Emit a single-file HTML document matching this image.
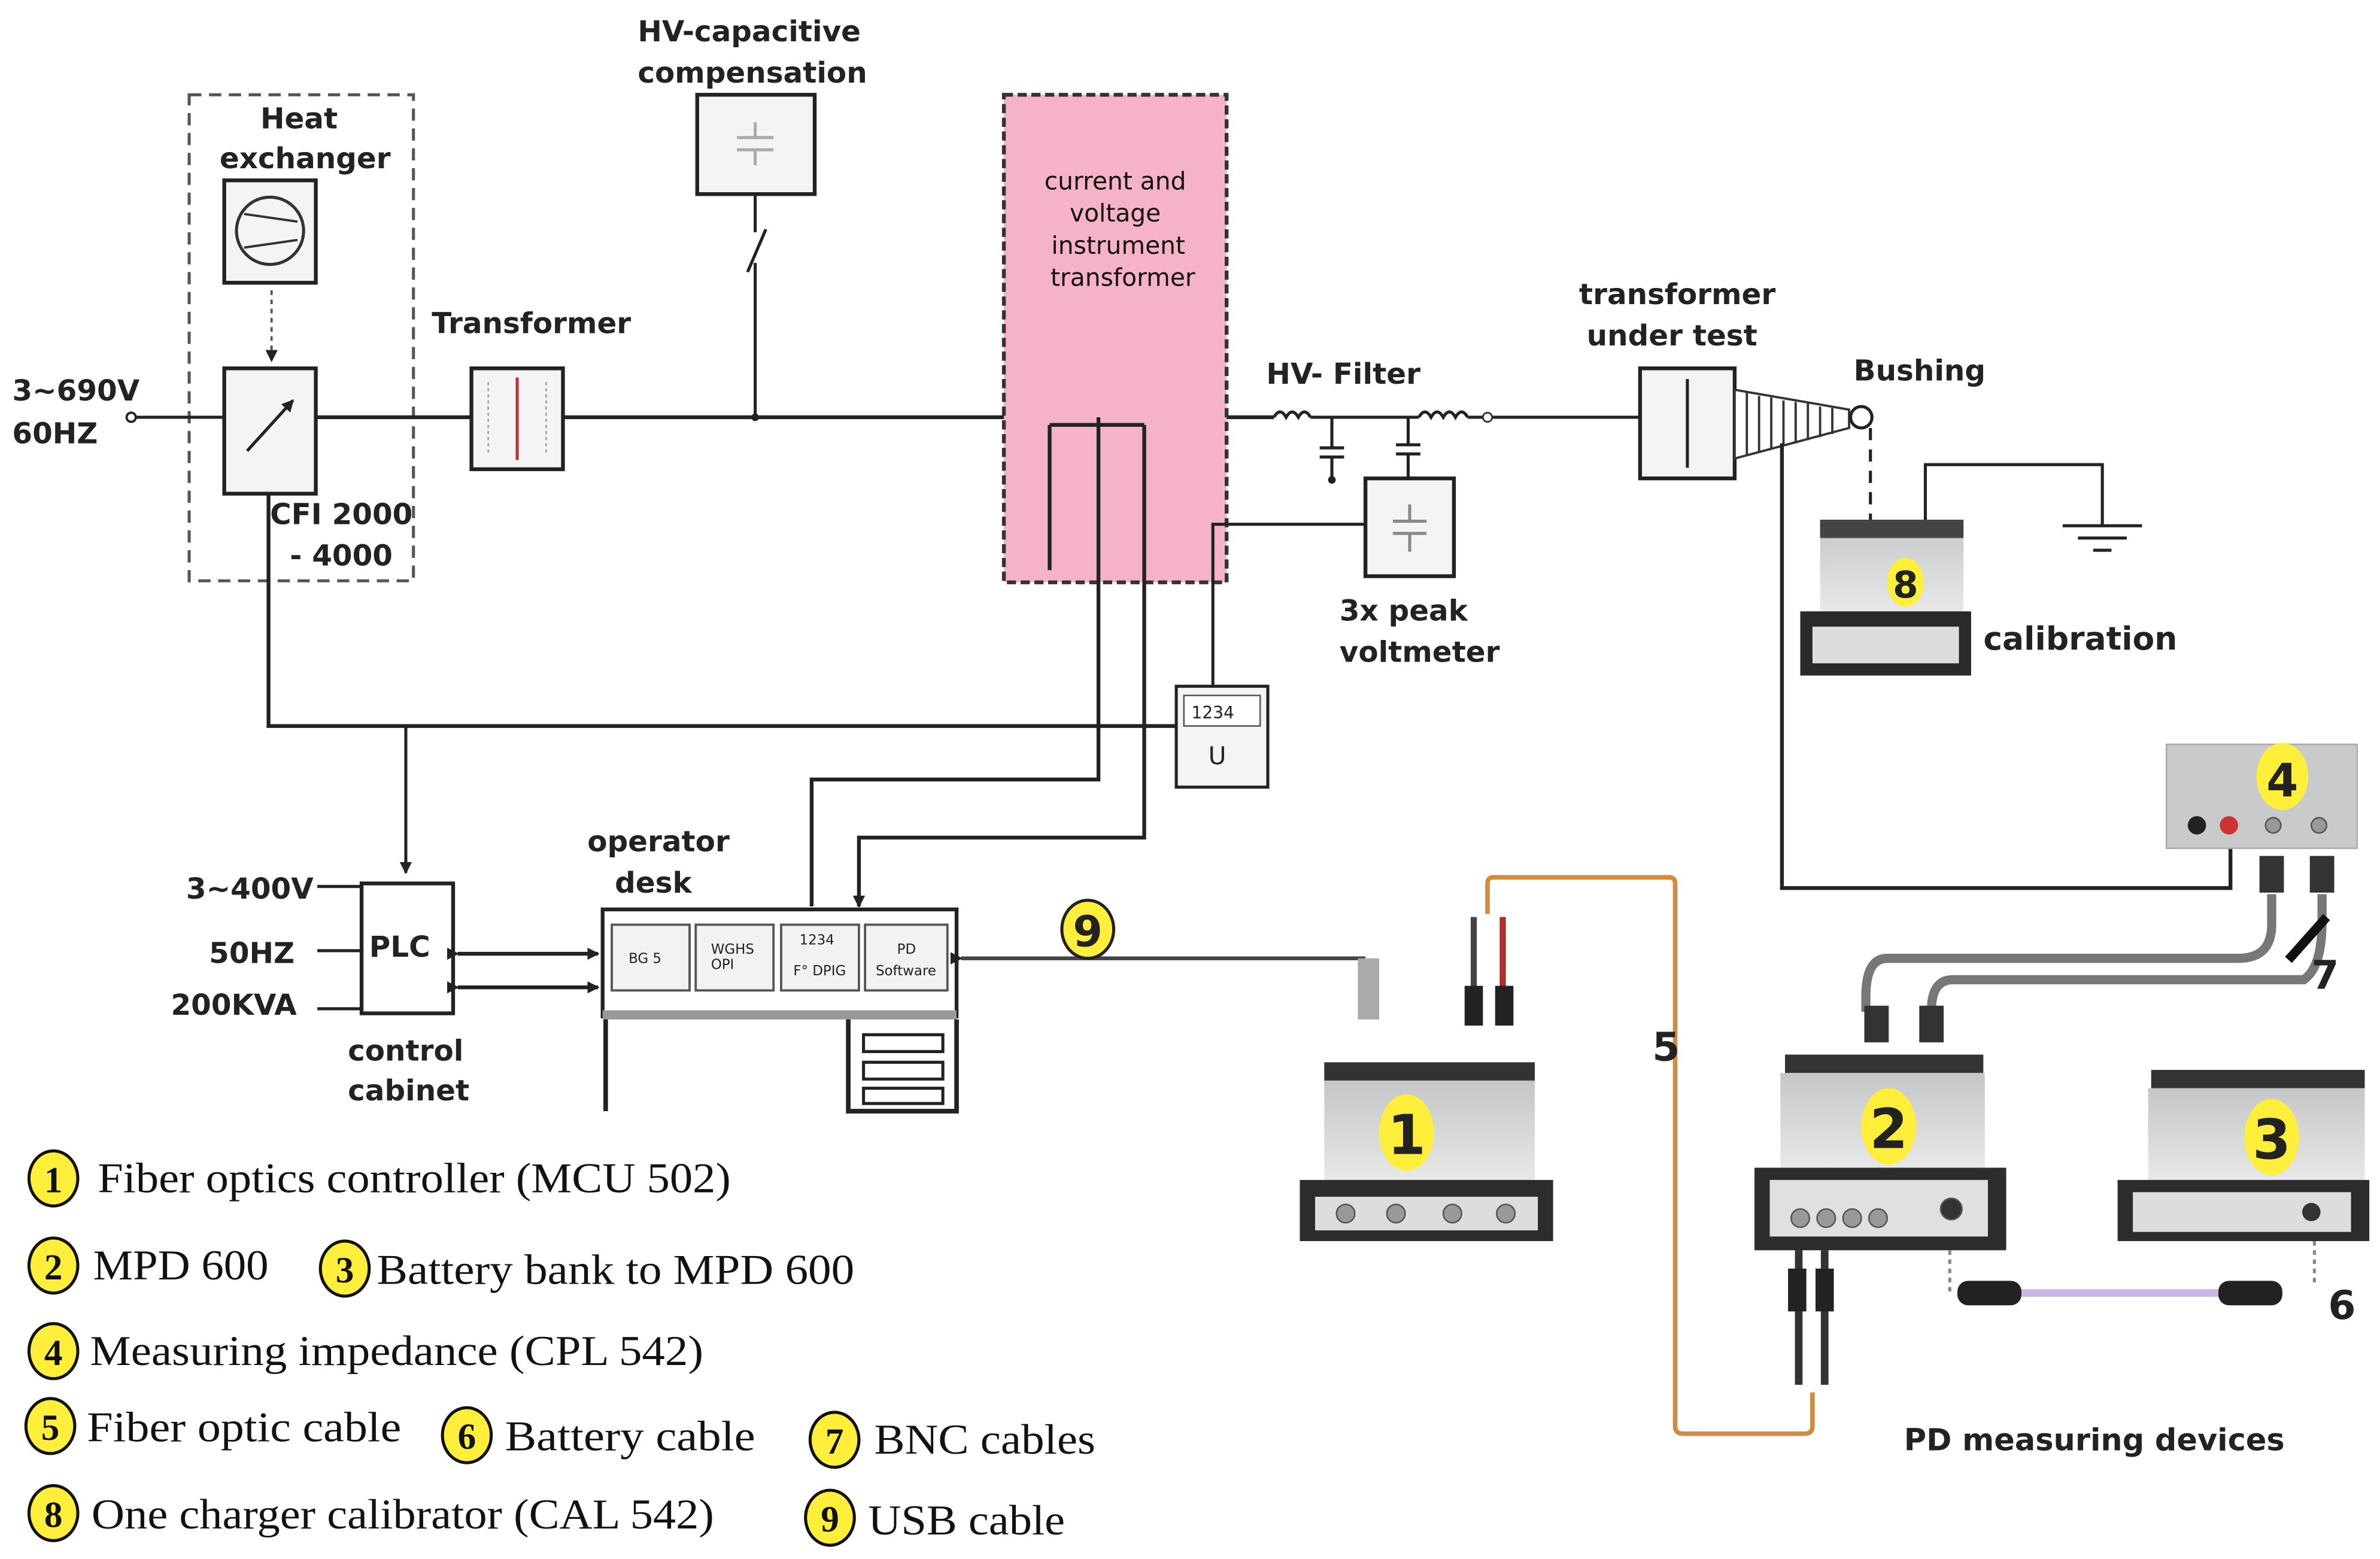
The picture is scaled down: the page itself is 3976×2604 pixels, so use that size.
<!DOCTYPE html>
<html><head><meta charset="utf-8"><style>html,body{margin:0;padding:0;background:#fff}svg{display:block}</style></head>
<body>
<svg width="3976" height="2604" viewBox="0 0 1560 1020" preserveAspectRatio="none" xmlns="http://www.w3.org/2000/svg">
<defs>
<linearGradient id="body" x1="0" y1="0" x2="0" y2="1"><stop offset="0" stop-color="#c4c6c8"/><stop offset="1" stop-color="#e8e8e8"/></linearGradient>
<marker id="ar" markerWidth="8" markerHeight="8" refX="7" refY="4" orient="auto" markerUnits="userSpaceOnUse"><path d="M0,0 L8,4 L0,8z" fill="#222"/></marker>
</defs>
<g font-family="'DejaVu Sans','Liberation Sans',sans-serif" font-weight="bold" font-size="19" fill="#222">
<!-- dashed box -->
<rect x="124" y="62" width="147" height="318" fill="none" stroke="#555" stroke-width="2" stroke-dasharray="8,5"/>
<text x="196" y="84" text-anchor="middle">Heat</text>
<text x="200" y="110" text-anchor="middle">exchanger</text>
<rect x="147" y="118" width="60" height="67" fill="#f4f4f4" stroke="#222" stroke-width="2.5"/>
<circle cx="177" cy="151" r="22" fill="none" stroke="#333" stroke-width="2"/>
<path d="M160,140 L195,145 M160,162 L195,157" stroke="#333" stroke-width="1.5"/>
<line x1="178" y1="190" x2="178" y2="236" stroke="#555" stroke-width="1.5" stroke-dasharray="3,3" marker-end="url(#ar)"/>
<rect x="147" y="241" width="60" height="82" fill="#f4f4f4" stroke="#222" stroke-width="2.5"/>
<line x1="162" y1="295" x2="192" y2="262" stroke="#222" stroke-width="2" marker-end="url(#ar)"/>
<text x="177" y="343">CFI 2000</text>
<text x="190" y="370">- 4000</text>
<text x="8" y="262">3~690V</text>
<text x="8" y="290">60HZ</text>
<circle cx="86" cy="273" r="3" fill="none" stroke="#222" stroke-width="1.5"/>
<line x1="89" y1="273" x2="147" y2="273" stroke="#222" stroke-width="2"/>
<line x1="207" y1="273" x2="835" y2="273" stroke="#222" stroke-width="2.5"/>
<!-- transformer -->
<text x="283" y="218">Transformer</text>
<rect x="309" y="241" width="60" height="66" fill="#f4f4f4" stroke="#222" stroke-width="2.5"/>
<line x1="339" y1="247" x2="339" y2="301" stroke="#b33" stroke-width="2"/>
<path d="M320,250 v48 M358,250 v48" stroke="#999" stroke-width="1" stroke-dasharray="2,2"/>
<!-- HV cap -->
<text x="418" y="27">HV-capacitive</text>
<text x="418" y="54">compensation</text>
<rect x="457" y="62" width="77" height="65" fill="#f4f4f4" stroke="#222" stroke-width="2.5"/>
<path d="M483,90 h24 M483,98 h24 M495,80 v10 M495,98 v10" stroke="#aaa" stroke-width="2"/>
<path d="M495,127 v25 M490,178 L502,150 M495,172 v101" stroke="#222" stroke-width="2" fill="none"/>
<circle cx="495" cy="273" r="2.5" fill="#222"/>
<!-- pink -->
<rect x="658" y="62" width="146" height="319" fill="#f6b3c8" stroke="#333" stroke-width="2.5" stroke-dasharray="6,3"/>
<g font-size="16" text-anchor="middle" font-weight="normal" fill="#111">
<text x="731" y="124">current and</text><text x="731" y="145">voltage</text><text x="733" y="166">instrument</text><text x="736" y="187">transformer</text></g>
<path d="M688,278 h62 M688,278 v95 M720,273 v237 h-188 v83 M750,278 v270 h-187 v45" stroke="#222" stroke-width="2.5" fill="none"/>
<path d="M532,585 v8 M563,585 v8" stroke="#222" stroke-width="2" marker-end="url(#ar)"/>
<path d="M176,323 v152 h595" stroke="#222" stroke-width="2.5" fill="none"/>
<path d="M266,475 v96" stroke="#222" stroke-width="2" fill="none" marker-end="url(#ar)"/>
<path d="M795,449 v-106 h100" stroke="#222" stroke-width="2" fill="none"/>
<rect x="771" y="449" width="60" height="66" fill="#f4f4f4" stroke="#222" stroke-width="2"/>
<rect x="776" y="455" width="50" height="20" fill="#fff" stroke="#555" stroke-width="1"/>
<text x="781" y="470" font-size="11" font-weight="normal">1234</text>
<text x="792" y="500" font-size="16" font-weight="normal">U</text>
<!-- HV filter -->
<text x="830" y="251">HV- Filter</text>
<path d="M835,273 q4,-7 8,0 q4,-7 8,0 q4,-7 8,0 M859,273 h71 M930,273 q4,-7 8,0 q4,-7 8,0 q4,-7 8,0 q4,-7 8,0 M962,273 h113" stroke="#222" stroke-width="2" fill="none"/>
<circle cx="975" cy="273" r="3" fill="#fff" stroke="#222"/>
<path d="M873,273 v20 M865,293 h16 M865,299 h16 M873,299 v14 M923,273 v18 M915,291 h16 M915,297 h16 M923,297 v16" stroke="#222" stroke-width="2"/>
<circle cx="873" cy="314" r="2.5" fill="#222"/>
<rect x="895" y="313" width="58" height="64" fill="#f4f4f4" stroke="#222" stroke-width="2.5"/>
<path d="M913,341 h22 M913,349 h22 M924,330 v11 M924,349 v12" stroke="#888" stroke-width="2"/>
<text x="878" y="406">3x peak</text>
<text x="878" y="433">voltmeter</text>
<!-- transformer under test -->
<text x="1035" y="199">transformer</text>
<text x="1040" y="226">under test</text>
<rect x="1075" y="241" width="62" height="72" fill="#f4f4f4" stroke="#222" stroke-width="2.5"/>
<line x1="1106" y1="248" x2="1106" y2="306" stroke="#222" stroke-width="2"/>
<path d="M1137,255 L1212,268 L1212,280 L1137,300 z" fill="#fff" stroke="#333" stroke-width="1.5"/>
<path d="M1145,257 v41 M1153,259 v37 M1161,260 v34 M1169,262 v30 M1177,263 v27 M1185,264 v24 M1193,266 v20 M1201,267 v17" stroke="#333" stroke-width="1.5"/>
<circle cx="1220" cy="273" r="7" fill="#fff" stroke="#222" stroke-width="2"/>
<text x="1215" y="249">Bushing</text>
<line x1="1226" y1="280" x2="1226" y2="342" stroke="#222" stroke-width="2" stroke-dasharray="8,6"/>
<path d="M1262,340 v-36 h116 v40 M1352,344 h52 M1362,352 h32 M1372,360 h12" stroke="#222" stroke-width="2" fill="none"/>
<!-- calibrator -->
<rect x="1193" y="340" width="94" height="60" fill="url(#body)"/>
<rect x="1193" y="340" width="94" height="12" fill="#444"/>
<rect x="1180" y="400" width="112" height="42" fill="#2a2a2a"/>
<rect x="1188" y="410" width="96" height="24" fill="#ddd"/>
<ellipse cx="1249" cy="381" rx="12" ry="16" fill="#ffef3a"/>
<text x="1249" y="391" text-anchor="middle" font-size="24">8</text>
<text x="1300" y="425" font-size="21">calibration</text>
<path d="M1168,290 v291 h294 v-26" stroke="#222" stroke-width="2.5" fill="none"/>
<!-- device 4 -->
<rect x="1420" y="487" width="125" height="68" fill="#c8cacc" stroke="#aaa"/>
<circle cx="1440" cy="540" r="6" fill="#222"/><circle cx="1461" cy="540" r="6" fill="#c33"/>
<circle cx="1490" cy="540" r="5" fill="#999" stroke="#555"/><circle cx="1520" cy="540" r="5" fill="#999" stroke="#555"/>
<ellipse cx="1496" cy="508" rx="17" ry="22" fill="#ffef3a"/>
<text x="1496" y="521" text-anchor="middle" font-size="30">4</text>
<rect x="1481" y="560" width="16" height="24" fill="#333"/><rect x="1514" y="560" width="16" height="24" fill="#333"/>
<!-- BNC cables -->
<path d="M1489,585 v20 q0,22 -22,22 h-230 q-14,0 -14,25 v10" stroke="#777" stroke-width="6" fill="none"/>
<path d="M1522,585 v18 q0,30 -12,38 h-230 q-14,0 -14,20 v8" stroke="#777" stroke-width="6" fill="none"/>
<line x1="1525" y1="600" x2="1500" y2="628" stroke="#111" stroke-width="6"/>
<text x="1515" y="647" font-size="26">7</text>
<rect x="1222" y="658" width="16" height="24" fill="#333"/><rect x="1258" y="658" width="16" height="24" fill="#333"/>
<!-- PLC -->
<rect x="237" y="578" width="60" height="85" fill="#fff" stroke="#222" stroke-width="2.5"/>
<text x="242" y="626">PLC</text>
<text x="122" y="588">3~400V</text><text x="137" y="630">50HZ</text><text x="112" y="664">200KVA</text>
<path d="M208,580 h29 M208,622 h29 M208,660 h29" stroke="#222" stroke-width="2"/>
<text x="228" y="694">control</text><text x="228" y="720">cabinet</text>
<line x1="300" y1="624" x2="392" y2="624" stroke="#222" stroke-width="2.5" marker-start="url(#ar)" marker-end="url(#ar)"/>
<line x1="300" y1="646" x2="392" y2="646" stroke="#222" stroke-width="2.5" marker-start="url(#ar)" marker-end="url(#ar)"/>
<!-- desk -->
<text x="385" y="557">operator</text><text x="403" y="584">desk</text>
<rect x="395" y="595" width="232" height="70" fill="#fff" stroke="#222" stroke-width="2.5"/>
<rect x="395" y="661" width="232" height="6" fill="#999"/>
<g fill="#f2f2f2" stroke="#555" stroke-width="1.5"><rect x="401" y="605" width="51" height="43"/><rect x="456" y="605" width="51" height="43"/><rect x="512" y="605" width="51" height="43"/><rect x="567" y="605" width="54" height="43"/></g>
<g font-size="9" font-weight="normal"><text x="412" y="630">BG 5</text><text x="466" y="624">WGHS</text><text x="466" y="634">OPI</text><text x="524" y="618">1234</text><text x="520" y="638">F° DPIG</text><text x="588" y="624">PD</text><text x="574" y="638">Software</text></g>
<path d="M397,667 v60 M556,667 v60 h71 v-60" stroke="#222" stroke-width="3" fill="none"/>
<path d="M566,677 h52 v11 h-52z M566,695 h52 v11 h-52z M566,712 h52 v10 h-52z" fill="#fff" stroke="#222" stroke-width="2"/>
<line x1="630" y1="627" x2="895" y2="627" stroke="#444" stroke-width="2.5" marker-start="url(#ar)"/>
<ellipse cx="713" cy="608" rx="17" ry="19" fill="#ffef3a" stroke="#222" stroke-width="2"/>
<text x="713" y="619" text-anchor="middle" font-size="28">9</text>
<rect x="890" y="627" width="14" height="40" fill="#aaa"/>
<!-- fiber -->
<path d="M975,598 v-20 q0,-4 4,-4 h115 q4,0 4,4 v355 q0,5 5,5 h80 q5,0 5,-5 v-22" stroke="#d48a40" stroke-width="3" fill="none"/>
<path d="M966,600 v55 M985,600 v55" stroke="#444" stroke-width="4"/>
<path d="M985,600 v45" stroke="#c22" stroke-width="3"/>
<rect x="960" y="645" width="12" height="26" fill="#222"/><rect x="980" y="645" width="12" height="26" fill="#222"/>
<text x="1083" y="694" font-size="26">5</text>
<!-- device 1 -->
<rect x="868" y="695" width="138" height="12" fill="#333"/>
<rect x="868" y="707" width="138" height="65" fill="url(#body)"/>
<rect x="852" y="772" width="166" height="40" fill="#2c2c2c"/>
<rect x="862" y="783" width="146" height="22" fill="#ddd"/>
<g fill="#999" stroke="#555"><circle cx="882" cy="794" r="6"/><circle cx="915" cy="794" r="6"/><circle cx="952" cy="794" r="6"/><circle cx="987" cy="794" r="6"/></g>
<ellipse cx="922" cy="741" rx="18" ry="25" fill="#ffef3a"/>
<text x="922" y="755" text-anchor="middle" font-size="36">1</text>
<!-- device 2 -->
<rect x="1170" y="690" width="130" height="12" fill="#333"/>
<rect x="1167" y="702" width="134" height="62" fill="url(#body)"/>
<rect x="1150" y="764" width="165" height="54" fill="#2c2c2c"/>
<rect x="1160" y="772" width="143" height="37" fill="#e0e0e0"/>
<g fill="#999" stroke="#555"><circle cx="1180" cy="797" r="6"/><circle cx="1197" cy="797" r="6"/><circle cx="1214" cy="797" r="6"/><circle cx="1231" cy="797" r="6"/><circle cx="1279" cy="791" r="7" fill="#333"/></g>
<ellipse cx="1238" cy="737" rx="18" ry="25" fill="#ffef3a"/>
<text x="1238" y="751" text-anchor="middle" font-size="36">2</text>
<path d="M1179,818 v88 M1196,818 v88" stroke="#333" stroke-width="5"/>
<rect x="1172" y="830" width="12" height="28" fill="#222"/><rect x="1190" y="830" width="12" height="28" fill="#222"/>
<!-- device 3 -->
<rect x="1410" y="700" width="140" height="12" fill="#333"/>
<rect x="1408" y="712" width="142" height="60" fill="url(#body)"/>
<rect x="1388" y="772" width="165" height="40" fill="#2c2c2c"/>
<rect x="1398" y="780" width="143" height="26" fill="#ddd"/>
<circle cx="1515" cy="793" r="6" fill="#333"/>
<ellipse cx="1489" cy="744" rx="18" ry="25" fill="#ffef3a"/>
<text x="1489" y="758" text-anchor="middle" font-size="36">3</text>
<!-- battery cable -->
<path d="M1278,818 v28 M1517,812 v28" stroke="#888" stroke-width="2" stroke-dasharray="3,3"/>
<rect x="1283" y="838" width="42" height="16" rx="7" fill="#222"/>
<rect x="1454" y="838" width="42" height="16" rx="7" fill="#222"/>
<line x1="1325" y1="846" x2="1454" y2="846" stroke="#c8b8e8" stroke-width="5"/>
<text x="1526" y="863" font-size="26">6</text>
<text x="1248" y="949" font-size="20">PD measuring devices</text>
</g>
<!-- legend -->
<g font-family="'Liberation Serif',serif" font-size="28" fill="#111">
<g fill="#ffef3a" stroke="#111" stroke-width="2">
<ellipse cx="35" cy="771" rx="16" ry="18"/><ellipse cx="35" cy="828" rx="16" ry="18"/><ellipse cx="226" cy="830" rx="16" ry="18"/>
<ellipse cx="35" cy="884" rx="16" ry="18"/><ellipse cx="33" cy="933" rx="16" ry="18"/><ellipse cx="306" cy="939" rx="16" ry="18"/>
<ellipse cx="547" cy="942" rx="16" ry="18"/><ellipse cx="35" cy="990" rx="16" ry="18"/><ellipse cx="544" cy="993" rx="16" ry="18"/></g>
<g font-weight="bold" text-anchor="middle" font-size="24">
<text x="35" y="780">1</text><text x="35" y="837">2</text><text x="226" y="839">3</text><text x="35" y="893">4</text><text x="33" y="942">5</text><text x="306" y="948">6</text><text x="547" y="951">7</text><text x="35" y="999">8</text><text x="544" y="1002">9</text></g>
<text x="64" y="780" textLength="415" lengthAdjust="spacingAndGlyphs">Fiber optics controller (MCU 502)</text>
<text x="61" y="837" textLength="115" lengthAdjust="spacingAndGlyphs">MPD 600</text>
<text x="247" y="840" textLength="313" lengthAdjust="spacingAndGlyphs">Battery bank to MPD 600</text>
<text x="59" y="893" textLength="402" lengthAdjust="spacingAndGlyphs">Measuring impedance (CPL 542)</text>
<text x="57" y="943" textLength="206" lengthAdjust="spacingAndGlyphs">Fiber optic cable</text>
<text x="331" y="949" textLength="164" lengthAdjust="spacingAndGlyphs">Battery cable</text>
<text x="573" y="951" textLength="145" lengthAdjust="spacingAndGlyphs">BNC cables</text>
<text x="60" y="1000" textLength="408" lengthAdjust="spacingAndGlyphs">One charger calibrator (CAL 542)</text>
<text x="569" y="1004" textLength="129" lengthAdjust="spacingAndGlyphs">USB cable</text>
</g>
</svg>
</body></html>
